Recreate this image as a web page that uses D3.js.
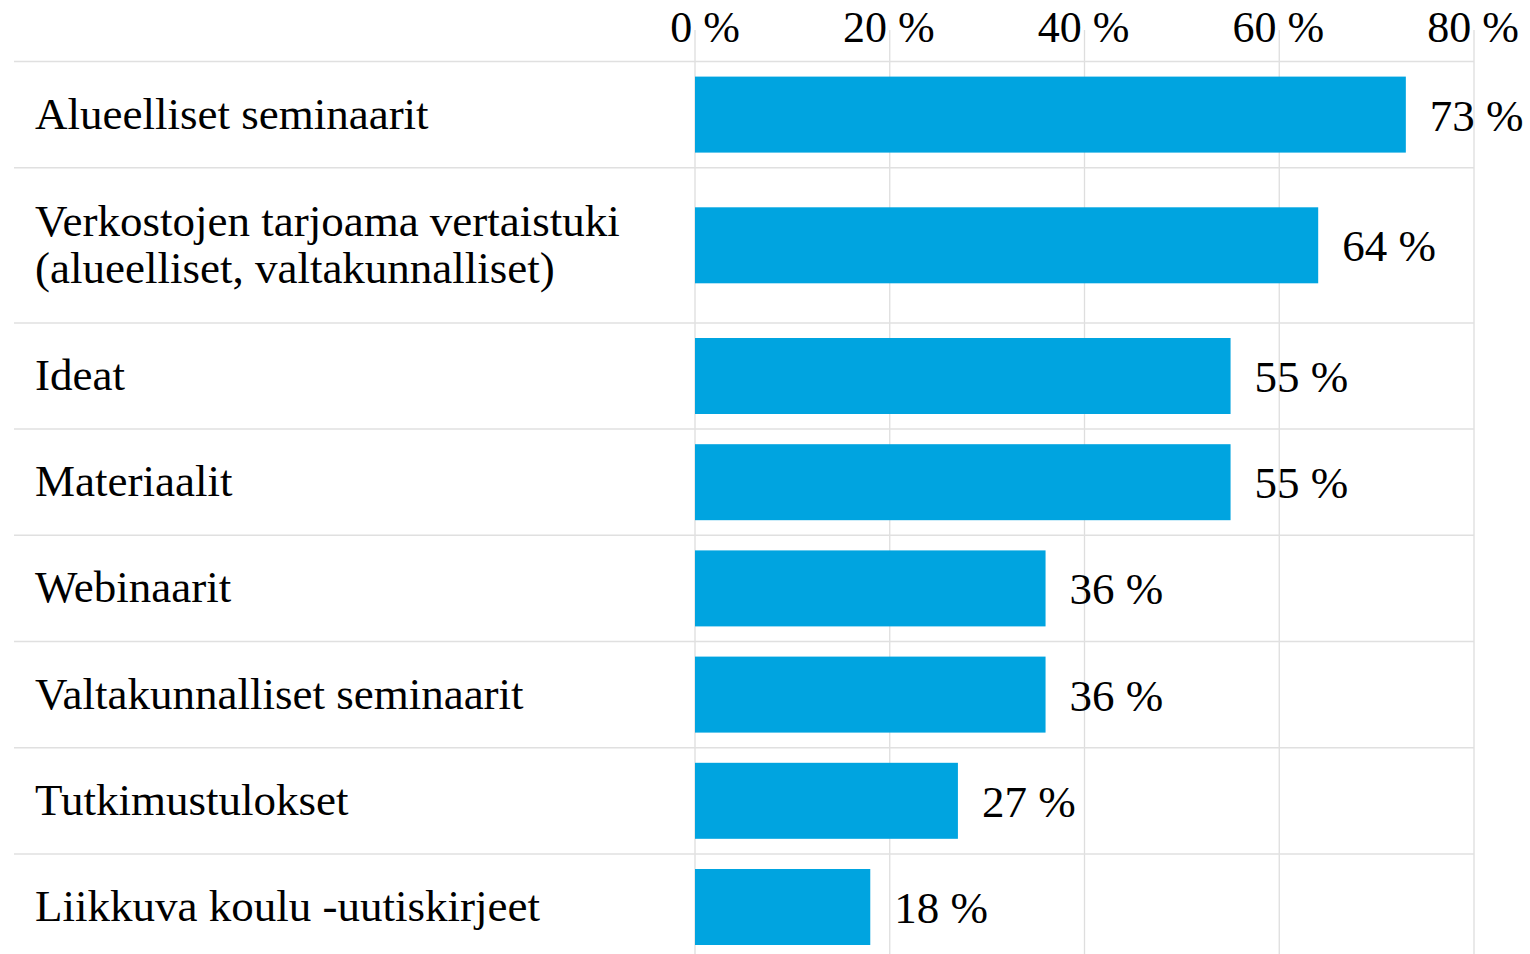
<!DOCTYPE html>
<html><head><meta charset="utf-8">
<script src="https://cdn.jsdelivr.net/npm/d3@7"></script>
<style>body{margin:0;background:#fff}svg{display:block}</style>
</head><body>
<script>
const categories = [
  ["Alueelliset seminaarit"],
  ["Verkostojen tarjoama vertaistuki", "(alueelliset, valtakunnalliset)"],
  ["Ideat"],
  ["Materiaalit"],
  ["Webinaarit"],
  ["Valtakunnalliset seminaarit"],
  ["Tutkimustulokset"],
  ["Liikkuva koulu -uutiskirjeet"]
];
const values = [73, 64, 55, 55, 36, 36, 27, 18];
const tickValues = [0, 20, 40, 60, 80];
const tickLabels = ["0 %", "20 %", "40 %", "60 %", "80 %"];

const W = 1530, H = 954;
const FONT = "'Liberation Serif', serif";
const svg = d3.select("body").append("svg").attr("width", W).attr("height", H);

const x = d3.scaleLinear().domain([0, 80]).range([695, 1474]);

// row layout
const top0 = 61.5, oneLine = 106.2, extraLine = 49;
let rows = [], yy = top0;
categories.forEach((c, i) => {
  const h = oneLine + (c.length - 1) * extraLine;
  rows.push({y0: yy, h, cat: c, v: values[i]});
  yy += h;
});
const barH = 76;

// vertical gridlines
svg.append("g").selectAll("line").data(tickValues).join("line")
  .attr("x1", d => x(d)).attr("x2", d => x(d))
  .attr("y1", 30).attr("y2", H)
  .attr("stroke", "#dedede").attr("stroke-width", 1.3);

// row separators
svg.append("g").selectAll("line").data(rows).join("line")
  .attr("x1", 14).attr("x2", 1474)
  .attr("y1", d => d.y0).attr("y2", d => d.y0)
  .attr("stroke", "#e0e0e0").attr("stroke-width", 1.5);

// tick labels
svg.append("g").selectAll("text").data(tickValues).join("text")
  .attr("x", d => x(d) + 45).attr("y", 42)
  .attr("text-anchor", "end")
  .attr("font-family", FONT).attr("font-size", 44).attr("fill", "#000")
  .text((d, i) => tickLabels[i]);

// bars
svg.append("g").selectAll("rect").data(rows).join("rect")
  .attr("x", x(0)).attr("width", d => x(d.v) - x(0))
  .attr("y", d => d.y0 + (d.h - barH) / 2).attr("height", barH)
  .attr("fill", "#00a4e0");

// value labels
svg.append("g").selectAll("text").data(rows).join("text")
  .attr("x", d => x(d.v) + 24).attr("y", d => d.y0 + d.h / 2 + 16)
  .attr("font-family", FONT).attr("font-size", 45).attr("fill", "#000")
  .text(d => d.v + " %");

// category labels
const cat = svg.append("g").selectAll("text").data(rows).join("text")
  .attr("font-family", FONT).attr("font-size", 45).attr("fill", "#000");
cat.each(function(d) {
  const n = d.cat.length, lh = 47;
  const base = d.y0 + d.h / 2 + 14 - (n - 1) * lh / 2;
  d3.select(this).selectAll("tspan").data(d.cat).join("tspan")
    .attr("x", 35).attr("y", (t, j) => base + j * lh).text(t => t);
});
</script>
</body></html>
